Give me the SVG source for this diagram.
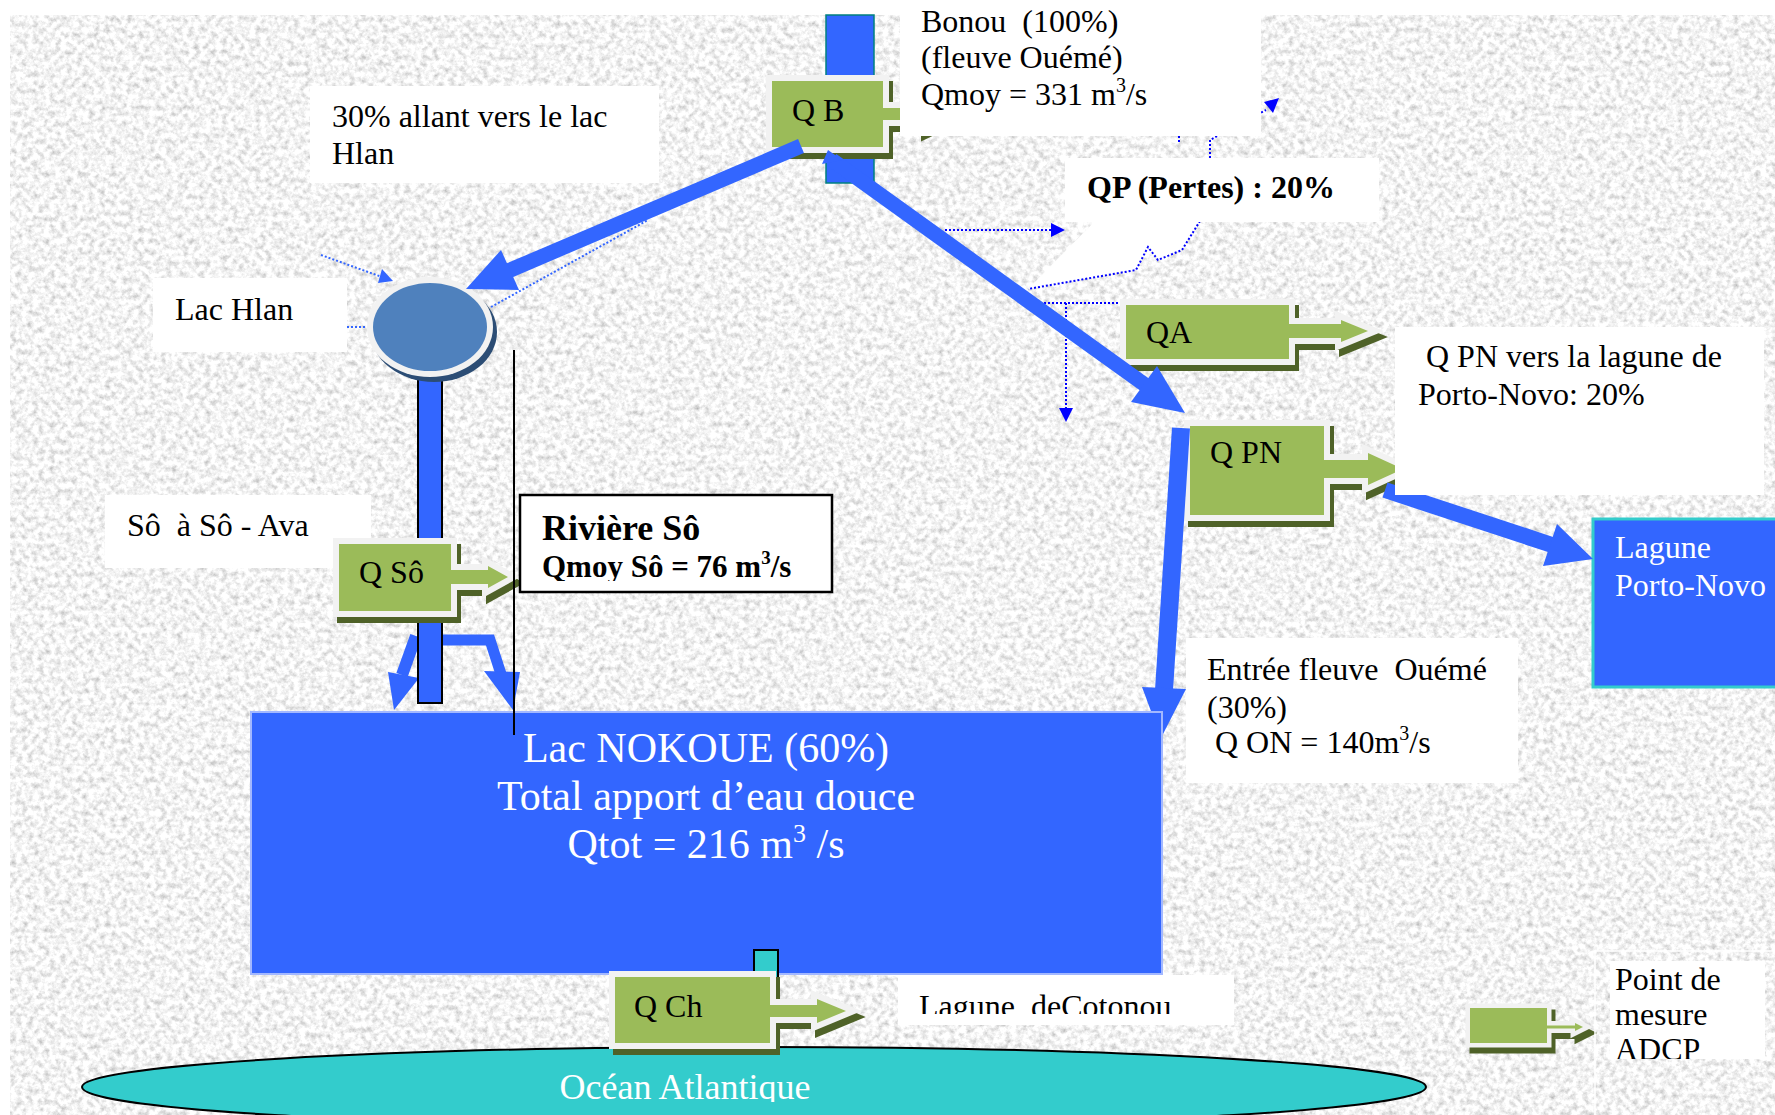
<svg xmlns="http://www.w3.org/2000/svg" xmlns:xlink="http://www.w3.org/1999/xlink" width="1775" height="1115" viewBox="0 0 1775 1115">
<style>
.t{font-family:"Liberation Serif","Times New Roman",serif;font-size:32px;fill:#000;white-space:pre}
.w{fill:#fff}
.b{font-weight:bold}
.box{fill:#fff}
.frame{fill:#9bbb59;stroke:#f2f2f2;stroke-width:12;stroke-linejoin:miter;paint-order:stroke}
.shadow{fill:#4f6228;stroke:#4f6228;stroke-width:12;stroke-linejoin:miter}
.frame2{fill:#9bbb59;stroke:#f2f2f2;stroke-width:9;stroke-linejoin:miter;paint-order:stroke}
.shadow2{fill:#4f6228;stroke:#4f6228;stroke-width:9;stroke-linejoin:miter}
.thick{stroke:#3366ff;fill:none;stroke-linecap:butt;stroke-linejoin:miter}
.head{fill:#3366ff}
.dot{stroke:#0000ff;stroke-width:2;stroke-dasharray:2 2;fill:none}
.dotl{stroke:#3366ff;stroke-width:2;stroke-dasharray:2 2;fill:none}
.dh{fill:#0000ff}
.dhl{fill:#3366ff}
.water{fill:#3366ff}
</style>
<defs>
<filter id="noise" x="0" y="0" width="100%" height="100%" filterUnits="objectBoundingBox">
<feTurbulence type="fractalNoise" baseFrequency="0.18" numOctaves="4" seed="7" result="n"/>
<feColorMatrix in="n" type="matrix" values="0.9 0 0 0 0.45  0.9 0 0 0 0.45  0.9 0 0 0 0.45  0 0 0 0 1"/>
</filter>
<path id="sQB" d="M772,81 H883 V108 H923 V102 L948,114 L923,126 V120 H883 V147 H772 Z"/>
<path id="sQA" d="M1126,305 H1289 V324 H1341 V320 L1368,331 L1341,342 V338 H1289 V359 H1126 Z"/>
<path id="sQPN" d="M1190,426 H1324 V460 H1368 V453 L1403,469 L1368,485 V478 H1324 V515 H1190 Z"/>
<path id="sQSo" d="M339,544 H451 V570 H488 V566 L508,577 L488,588 V584 H451 V611 H339 Z"/>
<path id="sQCh" d="M615,977 H770 V1005 H817 V999 L846,1011 L817,1023 V1017 H770 V1043 H615 Z"/>
<path id="sLeg" d="M1470,1008 H1547 V1025.5 H1575 V1023 L1583,1027 L1575,1031 V1028.5 H1547 V1043 H1470 Z"/>
<clipPath id="cRiv"><rect x="520" y="495" width="312" height="86"/></clipPath>
<clipPath id="cCot"><rect x="898" y="975" width="336" height="39"/></clipPath>
<clipPath id="cAdcp"><rect x="1610" y="961" width="155" height="98"/></clipPath>
<clipPath id="cOcean"><rect x="0" y="0" width="1775" height="1102"/></clipPath>
</defs>

<rect x="0" y="0" width="1775" height="1115" fill="#fff"/>
<rect x="10" y="15" width="1765" height="1100" fill="#e0e0e0" filter="url(#noise)"/>

<!-- white callout wedge below QP -->
<polygon points="1095,221 1200,221 1182,250 1158,260 1148,247 1136,270 1028,289" fill="#fff"/>

<g id="ocean">
<ellipse cx="754" cy="1087" rx="672" ry="40" fill="#33cccc" stroke="#000" stroke-width="2"/>
<text class="t w" x="685" y="1099" text-anchor="middle" style="font-size:36px" clip-path="url(#cOcean)">Océan Atlantique</text>
</g>

<g id="bonou-river"><rect x="826" y="15" width="48" height="168" class="water" stroke="#008080" stroke-width="1.5"/></g>
<g id="lagune-porto-novo">
<rect x="1593" y="519" width="190" height="168" class="water" stroke="#33cccc" stroke-width="3"/>
<text class="t w" x="1615" y="558">Lagune</text>
<text class="t w" x="1615" y="596">Porto-Novo</text>
</g>

<g id="connectors">
<path class="thick" stroke-width="12" d="M416,636 L402,675"/>
<polygon class="head" points="388,672 419,678 394,710"/>
<path class="thick" stroke-width="11" d="M442,640 H490 L501,674"/>
<polygon class="head" points="484,671 520,672 513,710"/>
<path class="dotl" d="M321,255 L382,277"/>
<polygon class="dhl" points="393,281 378,283 382,269"/>
<path class="dotl" d="M347,327 H367"/>
<path class="dotl" d="M491,307 L648,220"/>
<path class="dot" d="M945,230 H1052"/>
<polygon class="dh" points="1065,230 1051,223 1051,237"/>
<path class="dot" d="M1200,221 L1182,250 L1158,260 L1148,247 L1136,270 L1028,289"/>
<path class="dot" d="M1040,303 H1121"/>
<path class="dot" d="M1066,303 V409"/>
<polygon class="dh" points="1066,422 1059,408 1073,408"/>
<path class="dot" d="M1210,158 V140 L1266,110"/>
<polygon class="dh" points="1279,98 1273,113 1264,102"/>
<path class="dot" d="M1179,136 V142"/>
</g>

<g id="hlan-bar"><rect x="418" y="375" width="24" height="328" class="water" stroke="#000" stroke-width="2"/></g>

<g id="lac-hlan">
<ellipse cx="434" cy="332" rx="63" ry="50" fill="#2c4d75"/>
<ellipse cx="430" cy="327" rx="63" ry="50" fill="#f2f2f2"/>
<ellipse cx="430" cy="327" rx="57" ry="44" fill="#4f81bd"/>
</g>

<g id="label-so-ava">
<rect class="box" x="105" y="495" width="266" height="73"/>
<text class="t" x="127" y="536">Sô  à Sô - Ava</text>
</g>

<g id="node-QB">
<use href="#sQB" class="shadow" transform="translate(4,6)"/>
<use href="#sQB" class="frame"/>
<text class="t" x="792" y="121">Q B</text>
</g>
<g id="node-QA">
<use href="#sQA" class="shadow" transform="translate(4,6)"/>
<use href="#sQA" class="frame"/>
<text class="t" x="1146" y="343">QA</text>
</g>
<g id="node-QPN">
<use href="#sQPN" class="shadow" transform="translate(4,6)"/>
<use href="#sQPN" class="frame"/>
<text class="t" x="1210" y="463">Q PN</text>
</g>
<g id="node-QSo">
<use href="#sQSo" class="shadow" transform="translate(4,6)"/>
<use href="#sQSo" class="frame"/>
<text class="t" x="359" y="583">Q Sô</text>
</g>

<g id="flow-arrows">
<path class="thick" stroke-width="15" d="M801,146 L508,271"/>
<polygon class="head" points="501,250 519,290 466,289"/>
<path class="thick" stroke-width="18" d="M1181,428 L1164,690"/>
<polygon class="head" points="1142,687 1186,689 1161,738"/>
<path class="thick" stroke-width="15" d="M832,160 L1148,387"/>
<polygon class="head" points="1131,402 1157,366 1185,413"/>
<polygon class="head" points="822,164 828,150 842,160"/>
<path class="thick" stroke-width="16" d="M1385,490 L1552,545"/>
<polygon class="head" points="1557,524 1543,566 1593,559"/>
</g>

<g id="lac-nokoue">
<rect x="251" y="712" width="911" height="262" class="water" stroke="#a3b8ff" stroke-width="2"/>
<text class="t w" x="706" y="762" text-anchor="middle" style="font-size:42px">Lac NOKOUE (60%)</text>
<text class="t w" x="706" y="810" text-anchor="middle" style="font-size:42px">Total apport d’eau douce</text>
<text class="t w" x="706" y="858" text-anchor="middle" style="font-size:42px">Qtot = 216 m<tspan style="font-size:26px" dy="-16">3</tspan><tspan dy="16"> /s</tspan></text>
</g>

<line x1="514" y1="350" x2="514" y2="735" stroke="#000" stroke-width="2"/>

<g id="chenal"><rect x="754" y="950" width="24" height="60" fill="#33cccc" stroke="#000" stroke-width="2"/></g>

<g id="node-QCh">
<use href="#sQCh" class="shadow" transform="translate(4,6)"/>
<use href="#sQCh" class="frame"/>
<text class="t" x="634" y="1017">Q Ch</text>
</g>

<g id="legend-node">
<use href="#sLeg" class="shadow2" transform="translate(4,6)"/>
<use href="#sLeg" class="frame2"/>
</g>

<g id="label-bonou">
<rect class="box" x="900" y="0" width="361" height="136"/>
<text class="t" x="921" y="32">Bonou  (100%)</text>
<text class="t" x="921" y="68">(fleuve Ouémé)</text>
<text class="t" x="921" y="105">Qmoy = 331 m<tspan style="font-size:20px" dy="-13">3</tspan><tspan dy="13">/s</tspan></text>
</g>

<g id="label-hlan30">
<rect class="box" x="310" y="86" width="349" height="97"/>
<text class="t" x="332" y="127">30% allant vers le lac</text>
<text class="t" x="332" y="164">Hlan</text>
</g>

<g id="label-lac-hlan">
<rect class="box" x="153" y="278" width="194" height="74"/>
<text class="t" x="175" y="320">Lac Hlan</text>
</g>

<g id="label-qp">
<rect class="box" x="1065" y="158" width="314" height="64"/>
<text class="t b" x="1087" y="198">QP (Pertes) : 20%</text>
</g>

<g id="label-qpn">
<rect class="box" x="1395" y="327" width="369" height="168"/>
<text class="t" x="1426" y="367">Q PN vers la lagune de</text>
<text class="t" x="1418" y="405">Porto-Novo: 20%</text>
</g>

<g id="label-riviere-so">
<rect class="box" x="520" y="495" width="312" height="97" stroke="#000" stroke-width="2.5"/>
<g clip-path="url(#cRiv)">
<text class="t b" x="542" y="540" style="font-size:36px">Rivière Sô</text>
<text class="t b" x="542" y="577" style="font-size:31px">Qmoy Sô = 76 m<tspan style="font-size:19px" dy="-13">3</tspan><tspan dy="13">/s</tspan></text>
</g>
</g>

<g id="label-entree">
<rect class="box" x="1186" y="638" width="332" height="145"/>
<text class="t" x="1207" y="680">Entrée fleuve  Ouémé</text>
<text class="t" x="1207" y="718">(30%)</text>
<text class="t" x="1215" y="753">Q ON = 140m<tspan style="font-size:20px" dy="-13">3</tspan><tspan dy="13">/s</tspan></text>
</g>

<g id="label-cotonou">
<rect class="box" x="898" y="975" width="336" height="50"/>
<text class="t" x="919" y="1017" clip-path="url(#cCot)">Lagune  deCotonou</text>
</g>

<g id="label-adcp">
<rect x="1595" y="951" width="190" height="170" fill="none" stroke="#fff" stroke-width="1.5"/>
<rect class="box" x="1610" y="961" width="155" height="98"/>
<g clip-path="url(#cAdcp)">
<text class="t" x="1615" y="990">Point de</text>
<text class="t" x="1615" y="1025">mesure</text>
<text class="t" x="1615" y="1060">ADCP</text>
</g>
</g>
</svg>
